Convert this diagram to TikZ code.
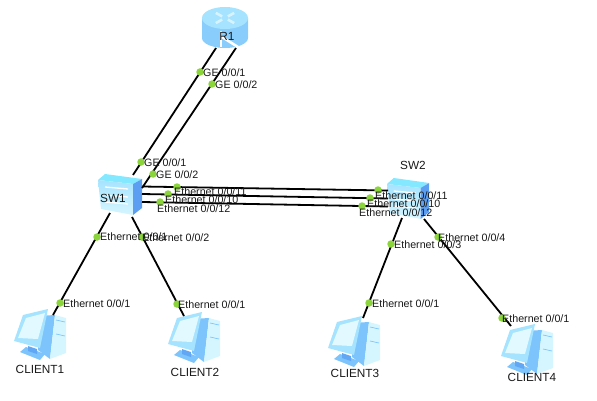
\documentclass[tikz,border=0pt]{standalone}
\usepackage{fontspec}
\setmainfont{Liberation Sans}
\usepackage{xcolor}
\usetikzlibrary{positioning, calc}
\definecolor{icopale}{HTML}{D6F6FF}
\definecolor{icolite}{HTML}{A5E3FF}
\definecolor{icomid}{HTML}{7CC4FB}
\definecolor{icodeep}{HTML}{5C9FF2}
\definecolor{portgreen}{HTML}{8CD43C}
\tikzset{
  link/.style={draw=black, line width=1.8pt},
  port/.style={circle, fill=portgreen, inner sep=0pt, minimum size=7.5pt},
  portname/.style={font=\fontsize{10.7}{12}\selectfont, inner sep=0pt, text=black!90},
  devname/.style={font=\fontsize{11.8}{13}\selectfont, inner sep=0pt, text=black!90},
  pics/router/.style={code={
    \fill[icomid!70!icolite] (-23,-10) -- (-23,10) arc[start angle=180, end angle=0, x radius=23, y radius=10]
      -- (23,-10) -- cycle;
    \fill[icolite] (0,-10) ellipse[x radius=23, y radius=11];
    \foreach \ang in {45,135,225,315}
      \draw[white!55!icolite, line width=2.6pt] (0,-10) ++(\ang:4 and 2.2) -- ++(\ang:9 and 5);
    \draw[white, line width=2.6pt] (-4,3) -- (-4,19);
    \draw[white, line width=2.6pt] (-3,9) -- (13,19);
  }},
  pics/switch/.style={code={
    \fill[icolite!80!cyan] (0,6) -- (7,0) -- (44,5) -- (35,10) -- cycle;
    \shade[top color=icolite, bottom color=icopale] (0,6) -- (35,10) -- (35,41) -- (3,35) -- cycle;
    \fill[icodeep] (35,10) -- (44,5) -- (44,34) -- (35,41) -- cycle;
    \foreach \ypos in {13,21,28}
      \draw[white, line width=1.3pt] (7,\ypos) -- (30,\ypos+2);
  }},
  pics/client/.style={code={
    \fill[icomid] (23,6) -- (40,5) -- (35,49) -- (23,40) -- cycle;
    \fill[icopale] (40,5) -- (51,8) -- (51,43) -- (35,49) -- cycle;
    \draw[icomid, line width=.7pt] (41,10) -- (50,12) (41,24) -- (50,26);
    \fill[icomid] (5,42) -- (11,37) -- (30,44) -- (25,50) -- cycle;
    \fill[icodeep!80!icomid] (13,36) -- (22,39) -- (22,44) -- (13,41) -- cycle;
    \fill[icolite] (-1,31) -- (8,5) -- (33,-1) -- (25,38) -- cycle;
    \fill[icopale!70!white] (3,28) -- (11,8) -- (30,3) -- (23,29) -- cycle;
  }}
}
\newcommand{\portlist}{
  pa/200/72/3/1/GE 0{/}0{/}1,
  pb/212/84/3/1/GE 0{/}0{/}2,
  pc/141/162/3/1/GE 0{/}0{/}1,
  pd/153/174/3/1/GE 0{/}0{/}2,
  pe/177/187/-3/5/Ethernet 0{/}0{/}11,
  pf/168/194/-3/6/Ethernet 0{/}0{/}10,
  pg/160/202/-3/7/Ethernet 0{/}0{/}12,
  ph/97/237/3/0/Ethernet 0{/}0{/}1,
  pi/142/237/0/1/Ethernet 0{/}0{/}2,
  pj/60/303/3/1/Ethernet 0{/}0{/}1,
  pk/177/304/1/1/Ethernet 0{/}0{/}1,
  pl/378/190/-3/6/Ethernet 0{/}0{/}11,
  pm/370/198/-3/6/Ethernet 0{/}0{/}10,
  pn/362/206/-3/7/Ethernet 0{/}0{/}12,
  po/391/244/3/1/Ethernet 0{/}0{/}3,
  pp/438/237/0/1/Ethernet 0{/}0{/}4,
  pq/369/303/3/1/Ethernet 0{/}0{/}1,
  pr/502/318/0/1/Ethernet 0{/}0{/}1}
\begin{document}
\begin{tikzpicture}[x=1pt, y=-1pt]
  \useasboundingbox (0,0) rectangle (597,401);
  % devices
  \pic at (225,28) {router};
  \pic at (98,174) {switch};
  \pic[xscale=.96] at (387,178) {switch};
  \pic at (15,310) {client};
  \pic at (169,313) {client};
  \pic at (329,317) {client};
  \pic at (502,325) {client};
  \node[devname] (r1) at (227,36) {R1};
  \node[devname] (sw1) at (113,198) {SW1};
  \node[devname] (sw2) at (413,165) {SW2};
  \node[devname] (client1) at (40,369) {CLIENT1};
  \node[devname] (client2) at (195,372) {CLIENT2};
  \node[devname] (client3) at (355,373) {CLIENT3};
  \node[devname] (client4) at (532,377) {CLIENT4};
  % ends of the links
  \coordinate (r1a) at (216,48);
  \coordinate (r1b) at (236,48);
  \coordinate (sw1a) at (133,175);
  \coordinate (sw1b) at (142,188);
  \coordinate (sw1c) at (142,186.5);
  \coordinate (sw1d) at (142,194);
  \coordinate (sw1e) at (142,202);
  \coordinate (sw1f) at (110,213);
  \coordinate (sw1g) at (132,217);
  \coordinate (sw2c) at (388,190.5);
  \coordinate (sw2d) at (388,198.5);
  \coordinate (sw2e) at (388,206.5);
  \coordinate (sw2f) at (402,218);
  \coordinate (sw2g) at (424,219);
  \coordinate (pc1) at (53,315);
  \coordinate (pc2) at (184,316);
  \coordinate (pc3) at (363,318);
  \coordinate (pc4) at (511,326);
  \foreach \from/\to in {r1a/sw1a, r1b/sw1b, sw1c/sw2c, sw1d/sw2d, sw1e/sw2e,
      sw1f/pc1, sw1g/pc2, sw2f/pc3, sw2g/pc4}
    \draw[link] (\from) -- (\to);
  % ports
  \foreach \name/\px/\py/\ox/\oy/\txt in \portlist
    \node[port] (\name) at (\px,\py) {};
  \foreach \name/\px/\py/\ox/\oy/\txt in \portlist
    \node[portname, anchor=west] (\name-txt) at ($(\name)+(\ox,\oy)$) {\txt};
\end{tikzpicture}
\end{document}
